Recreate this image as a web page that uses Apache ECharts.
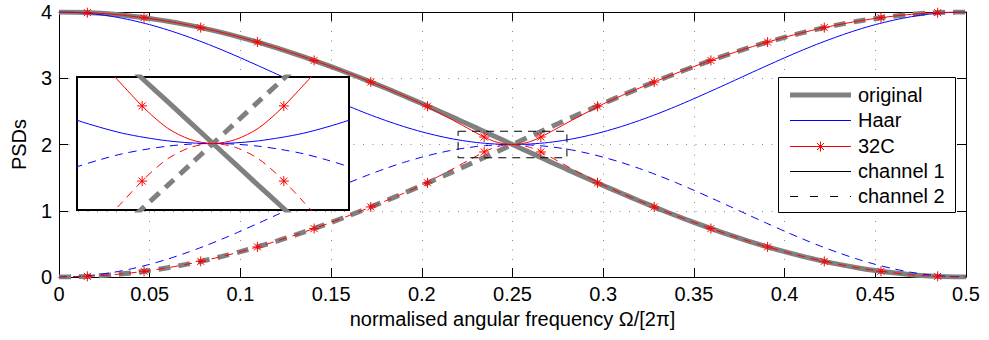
<!DOCTYPE html>
<html>
<head>
<meta charset="utf-8">
<script src="https://cdn.jsdelivr.net/npm/echarts@6/dist/echarts.min.js"></script>
<style>
html,body{margin:0;padding:0;background:#fff;}
#chart{width:989px;height:340px;}
</style>
</head>
<body>
<div id="chart"></div>
<script>
// ---------- data ----------
const freq = [0,0.01,0.02,0.03,0.04,0.05,0.06,0.07,0.08,0.09,0.1,0.11,0.12,0.13,0.14,0.15,0.16,0.17,0.18,0.19,0.2,
  0.205,0.21,0.215,0.22,0.225,0.23,0.235,0.24,0.245,0.25,0.255,0.26,0.265,0.27,0.275,0.28,0.285,0.29,0.295,
  0.3,0.31,0.32,0.33,0.34,0.35,0.36,0.37,0.38,0.39,0.4,0.41,0.42,0.43,0.44,0.45,0.46,0.47,0.48,0.49,0.5];

const originalCh1 = [4.000,3.996,3.984,3.965,3.937,3.902,3.860,3.810,3.753,3.689,3.618,3.541,3.458,3.369,3.275,3.176,3.072,2.964,2.852,2.736,2.618,
  2.558,2.497,2.436,2.375,2.313,2.251,2.188,2.126,2.063,2.000,1.937,1.874,1.812,1.749,1.687,1.625,1.564,1.503,1.442,
  1.382,1.264,1.148,1.036,0.928,0.824,0.725,0.631,0.542,0.459,0.382,0.311,0.247,0.190,0.140,0.098,0.063,0.035,0.016,0.004,0.000];
const originalCh2 = [0.000,0.004,0.016,0.035,0.063,0.098,0.140,0.190,0.247,0.311,0.382,0.459,0.542,0.631,0.725,0.824,0.928,1.036,1.148,1.264,1.382,
  1.442,1.503,1.564,1.625,1.687,1.749,1.812,1.874,1.937,2.000,2.063,2.126,2.188,2.251,2.313,2.375,2.436,2.497,2.558,
  2.618,2.736,2.852,2.964,3.072,3.176,3.275,3.369,3.458,3.541,3.618,3.689,3.753,3.810,3.860,3.902,3.937,3.965,3.984,3.996,4.000];

const haarCh1 = [4.000,3.992,3.969,3.930,3.876,3.809,3.729,3.637,3.536,3.426,3.309,3.187,3.063,2.937,2.813,2.691,2.574,2.464,2.363,2.271,2.191,
  2.156,2.124,2.095,2.070,2.049,2.031,2.018,2.008,2.002,2.000,2.002,2.008,2.018,2.031,2.049,2.070,2.095,2.124,2.156,
  2.191,2.271,2.363,2.464,2.574,2.691,2.813,2.937,3.063,3.187,3.309,3.426,3.536,3.637,3.729,3.809,3.876,3.930,3.969,3.992,4.000];
const haarCh2 = [0.000,0.008,0.031,0.070,0.124,0.191,0.271,0.363,0.464,0.574,0.691,0.813,0.937,1.063,1.187,1.309,1.426,1.536,1.637,1.729,1.809,
  1.844,1.876,1.905,1.930,1.951,1.969,1.982,1.992,1.998,2.000,1.998,1.992,1.982,1.969,1.951,1.930,1.905,1.876,1.844,
  1.809,1.729,1.637,1.536,1.426,1.309,1.187,1.063,0.937,0.813,0.691,0.574,0.464,0.363,0.271,0.191,0.124,0.070,0.031,0.008,0.000];

const c32Ch1 = [4.000,3.996,3.984,3.965,3.937,3.902,3.860,3.810,3.753,3.689,3.618,3.541,3.458,3.369,3.275,3.176,3.072,2.964,2.852,2.736,2.612,
  2.540,2.470,2.400,2.325,2.250,2.176,2.104,2.046,2.012,2.000,2.012,2.046,2.104,2.176,2.250,2.325,2.400,2.470,2.540,
  2.612,2.736,2.852,2.964,3.072,3.176,3.275,3.369,3.458,3.541,3.618,3.689,3.753,3.810,3.860,3.902,3.937,3.965,3.984,3.996,4.000];
const c32Ch2 = [0.000,0.004,0.016,0.035,0.063,0.098,0.140,0.190,0.247,0.311,0.382,0.459,0.542,0.631,0.725,0.824,0.928,1.036,1.148,1.264,1.388,
  1.460,1.530,1.600,1.675,1.750,1.824,1.896,1.954,1.988,2.000,1.988,1.954,1.896,1.824,1.750,1.675,1.600,1.530,1.460,
  1.388,1.264,1.148,1.036,0.928,0.824,0.725,0.631,0.542,0.459,0.382,0.311,0.247,0.190,0.140,0.098,0.063,0.035,0.016,0.004,0.000];

const markerFreq = [0.015625,0.046875,0.078125,0.109375,0.140625,0.171875,0.203125,0.234375,
  0.265625,0.296875,0.328125,0.359375,0.390625,0.421875,0.453125,0.484375];
const markerCh1 = [3.990,3.914,3.764,3.546,3.269,2.943,2.578,2.113,2.113,2.578,2.943,3.269,3.546,3.764,3.914,3.990];
const markerCh2 = [0.010,0.086,0.236,0.454,0.731,1.057,1.422,1.887,1.887,1.422,1.057,0.731,0.454,0.236,0.086,0.010];

const xTickLabels = ['0','0.05','0.1','0.15','0.2','0.25','0.3','0.35','0.4','0.45','0.5'];
const yTickLabels = ['0','1','2','3','4'];
const zoomX = [0.22, 0.28];
const zoomY = [1.8, 2.2];
const legendNames = ['original','Haar','32C','channel 1','channel 2'];
const xTitle = 'normalised angular frequency \u03A9/[2\u03C0]';
const yTitle = 'PSDs';

// ---------- styles ----------
const FONT = 'Liberation Sans, Arial, Helvetica, sans-serif';
const GRAY = '#808080', BLUE = '#0000ff', RED = '#ff0000';
const THICK_DASH = [12, 8];
const THIN_DASH = [8, 6];
const ASTERISK = 'path://M50 0L50 100M0 50L100 50M15 15L85 85M85 15L15 85';

const pairs = (xs, ys) => xs.map((x, i) => [x, ys[i]]);

function lineSeries(xi, yi, ys, color, width, dash, z) {
  return {
    type: 'line', xAxisIndex: xi, yAxisIndex: yi,
    data: pairs(freq, ys), showSymbol: false, symbol: 'none',
    smooth: 0.3, silent: true, z: z,
    lineStyle: { color: color, width: width, type: dash || 'solid', cap: 'butt' }
  };
}
function markerSeries(xi, yi, ys, z) {
  return {
    type: 'scatter', xAxisIndex: xi, yAxisIndex: yi,
    data: pairs(markerFreq, ys), symbol: ASTERISK, symbolSize: 10,
    silent: true, z: z, clip: true,
    itemStyle: { color: RED, borderColor: RED, borderWidth: 1, opacity: 1 }
  };
}
function seriesSet(xi, yi, zBase) {
  return [
    lineSeries(xi, yi, originalCh1, GRAY, 5, null, zBase),
    lineSeries(xi, yi, originalCh2, GRAY, 5, THICK_DASH, zBase),
    lineSeries(xi, yi, haarCh1, BLUE, 1, null, zBase + 1),
    lineSeries(xi, yi, haarCh2, BLUE, 1, THIN_DASH, zBase + 1),
    lineSeries(xi, yi, c32Ch1, RED, 1, null, zBase + 2),
    lineSeries(xi, yi, c32Ch2, RED, 1, THIN_DASH, zBase + 2),
    markerSeries(xi, yi, markerCh1, zBase + 3),
    markerSeries(xi, yi, markerCh2, zBase + 3)
  ];
}

const mainSeries = seriesSet(0, 0, 2);
// dashed zoom box drawn from data coords
mainSeries[5].markArea = {
  silent: true, z: 20,
  itemStyle: { color: 'rgba(0,0,0,0)', borderColor: '#000', borderWidth: 1, borderType: [8, 6] },
  data: [[{ coord: [zoomX[0], zoomY[1]] }, { coord: [zoomX[1], zoomY[0]] }]]
};
const insetSeries = seriesSet(2, 2, 12);

const tickStyle = { show: true, inside: true, length: 9, lineStyle: { color: '#000', width: 1 } };
const axisLineStyle = { show: true, onZero: false, lineStyle: { color: '#000', width: 1 } };
const gridLine = { show: true, lineStyle: { color: '#8a8a8a', width: 1, type: [1, 8.5] } };

// ---------- legend (drawn as graphic) ----------
const LX = 778, LY = 77, LW = 177, LH = 135;
const rowY = [95, 120, 146, 171, 196];
const sx1 = 790, sx2 = 851, tx = 858;
const legendSamples = [
  { stroke: GRAY, lineWidth: 5 },
  { stroke: BLUE, lineWidth: 1 },
  { stroke: RED, lineWidth: 1 },
  { stroke: '#000', lineWidth: 1 },
  { stroke: '#000', lineWidth: 1, lineDash: [8, 12] }
];
const graphics = [{
  type: 'rect', z: 100, silent: true,
  shape: { x: LX + 0.5, y: LY + 0.5, width: LW, height: LH },
  style: { fill: '#fff', stroke: '#000', lineWidth: 1 }
}];
legendNames.forEach((name, i) => {
  const y = rowY[i] + (legendSamples[i].lineWidth === 1 ? 0.5 : 0);
  graphics.push({
    type: 'line', z: 101, silent: true,
    shape: { x1: sx1, y1: y, x2: sx2, y2: y },
    style: Object.assign({ lineCap: 'butt' }, legendSamples[i])
  });
  graphics.push({
    type: 'text', z: 101, silent: true,
    x: tx, y: rowY[i],
    style: { text: name, font: '20px ' + FONT, fill: '#000', verticalAlign: 'middle' }
  });
});
// asterisk on 32C sample, built from short strokes
const ac = (sx1 + sx2) / 2, ar = 5, ad = 3.5;
[[0, -ar, 0, ar], [-ar, 0, ar, 0], [-ad, -ad, ad, ad], [ad, -ad, -ad, ad]].forEach(s => {
  graphics.push({
    type: 'line', z: 102, silent: true,
    shape: { x1: ac + s[0], y1: rowY[2] + 0.5 + s[1], x2: ac + s[2], y2: rowY[2] + 0.5 + s[3] },
    style: { stroke: RED, lineWidth: 1 }
  });
});

const option = {
  animation: false,
  backgroundColor: '#fff',
  textStyle: { fontFamily: FONT },
  grid: [
    { left: 59, top: 12, width: 907, height: 265, show: false },
    { left: 77, top: 77, width: 272, height: 133, show: true, backgroundColor: '#fff',
      borderColor: '#000', borderWidth: 2, z: 10 }
  ],
  xAxis: [
    { type: 'value', gridIndex: 0, position: 'bottom', min: 0, max: 0.5, interval: 0.05,
      axisLine: axisLineStyle, axisTick: tickStyle, splitLine: gridLine,
      axisLabel: { show: true, margin: 7, color: '#000', fontSize: 20, fontFamily: FONT,
        formatter: v => xTickLabels[Math.round(v / 0.05)] },
      name: xTitle, nameLocation: 'middle', nameGap: 26,
      nameTextStyle: { color: '#000', fontSize: 20, fontFamily: FONT } },
    { type: 'value', gridIndex: 0, position: 'top', min: 0, max: 0.5, interval: 0.05,
      axisLine: axisLineStyle, axisTick: tickStyle, splitLine: { show: false },
      axisLabel: { show: false } },
    { type: 'value', gridIndex: 1, min: zoomX[0], max: zoomX[1], show: false }
  ],
  yAxis: [
    { type: 'value', gridIndex: 0, position: 'left', min: 0, max: 4, interval: 1,
      axisLine: axisLineStyle, axisTick: tickStyle, splitLine: gridLine,
      axisLabel: { show: true, margin: 7, color: '#000', fontSize: 20, fontFamily: FONT,
        formatter: v => yTickLabels[Math.round(v)] },
      name: yTitle, nameLocation: 'middle', nameGap: 30, nameRotate: 90,
      nameTextStyle: { color: '#000', fontSize: 20, fontFamily: FONT } },
    { type: 'value', gridIndex: 0, position: 'right', min: 0, max: 4, interval: 1,
      axisLine: axisLineStyle, axisTick: tickStyle, splitLine: { show: false },
      axisLabel: { show: false } },
    { type: 'value', gridIndex: 1, min: zoomY[0], max: zoomY[1], show: false }
  ],
  series: mainSeries.concat(insetSeries),
  graphic: graphics
};

const chart = echarts.init(document.getElementById('chart'), null, { renderer: 'svg', width: 989, height: 340 });
chart.setOption(option);
</script>
</body>
</html>
